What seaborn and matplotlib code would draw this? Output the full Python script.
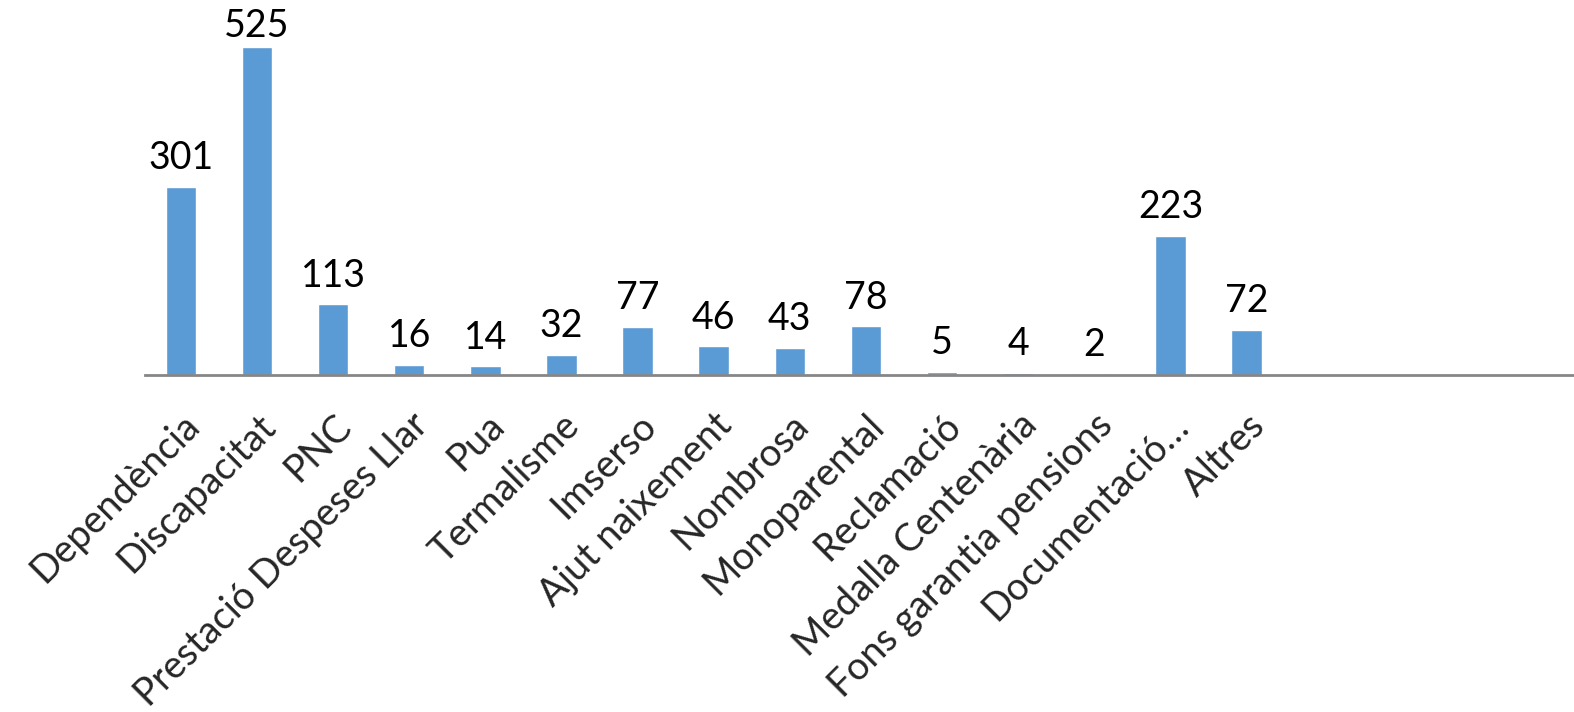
import pandas as pd
import matplotlib
matplotlib.use("Agg")
import matplotlib.pyplot as plt
import seaborn as sns

categories = ["Dependència", "Discapacitat", "PNC", "Prestació Despeses Llar", "Pua",
              "Termalisme", "Imserso", "Ajut naixement", "Nombrosa", "Monoparental",
              "Reclamació", "Medalla Centenària", "Fons garantia pensions",
              "Documentació…", "Altres"]
values = [301, 525, 113, 16, 14, 32, 77, 46, 43, 78, 5, 4, 2, 223, 72]

df = pd.DataFrame({"cat": categories, "n": values})

sns.set_theme(style="white")
plt.rcParams["font.family"] = ["Lato", "DejaVu Sans"]

fig = plt.figure(figsize=(15.74, 7.12), dpi=100)
ax = fig.add_axes([145 / 1574, 1 - 375 / 712, 1 - 145 / 1574, 375 / 712])

sns.barplot(data=df, x="cat", y="n", order=categories, color="#5B9BD5",
            saturation=1, width=0.4, ax=ax)

# etiquetes de valor (com Excel, no surten del requadre)
for i, v in enumerate(values):
    ax.text(i, min(v + 17, 530), str(v), ha="center", va="bottom",
            fontsize=27, color="black")

ax.set_ylim(0, 600)
ax.set_xlim(-0.47, 18.3)
ax.set_xlabel("")
ax.set_ylabel("")
ax.set_yticks([])
ax.tick_params(axis="x", length=0, pad=23)
for lab in ax.get_xticklabels():
    lab.set_rotation(45)
    lab.set_ha("right")
    lab.set_va("top")
    lab.set_rotation_mode("anchor")
    lab.set_fontsize(27.5)

for s in ["top", "right", "left"]:
    ax.spines[s].set_visible(False)
ax.spines["bottom"].set_color("#868686")
ax.spines["bottom"].set_linewidth(2)

fig.savefig("out.png", dpi=100)
